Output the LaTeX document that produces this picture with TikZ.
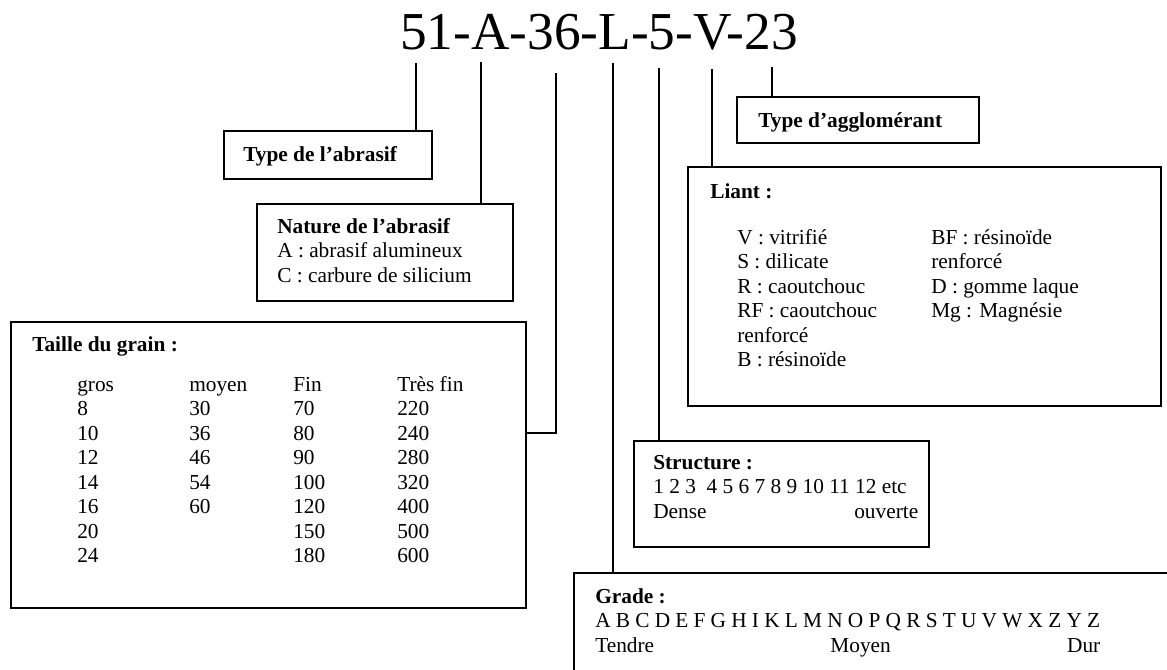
\documentclass[tikz,border=0pt]{standalone}
\usepackage{fontspec}
\setmainfont{Liberation Serif}
\usepackage{tikz}
\usetikzlibrary{positioning,calc}

\newcommand{\corps}{\fontsize{16}{18.4}\selectfont}

\begin{document}
\begin{tikzpicture}[x=0.75pt, y=-0.75pt,
    cadre/.style={draw, line width=1.4pt, anchor=north west, inner sep=0pt},
    trait/.style={line width=1.4pt},
    txt/.style={font=\corps, inner sep=0pt, anchor=base west},
    titre/.style={font=\fontsize{40}{46}\selectfont, inner sep=0pt, anchor=base}
]
\clip (0,0) rectangle (1167,669);

%% Designation
\node[titre] (code) at (599, 49) {51-A-36-L-5-V-23};
\coordinate (c51) at (416, 63);
\coordinate (cA)  at (481, 62);
\coordinate (c36) at (556, 73);
\coordinate (cL)  at (613, 63);
\coordinate (c5)  at (659, 68);
\coordinate (cV)  at (712, 69);
\coordinate (c23) at (772, 67);

%% Boxes
\node[cadre, minimum width=156pt, minimum height=36pt] (typeabr) at (223, 130) {};
\node[cadre, minimum width=192pt, minimum height=72.75pt] (nature) at (256, 203) {};
\node[cadre, minimum width=386.25pt, minimum height=214.5pt] (taille) at (10, 321) {};
\node[cadre, minimum width=181.5pt, minimum height=34.5pt] (typeagg) at (736, 96) {};
\node[cadre, minimum width=354.75pt, minimum height=179.25pt] (liant) at (687, 166) {};
\node[cadre, minimum width=221.25pt, minimum height=79.5pt] (structure) at (633, 440) {};
\node[cadre, minimum width=465pt, minimum height=112.5pt] (grade) at (573, 572) {};

%% Connectors
\draw[trait] (c51) -- (c51 |- typeabr.north);
\draw[trait] (cA) -- (cA |- nature.north);
\draw[trait] (c36) |- ([yshift=-84pt]taille.north east);
\draw[trait] (cL) -- (cL |- grade.north);
\draw[trait] (c5) -- (c5 |- structure.north);
\draw[trait] (cV) -- (cV |- liant.north);
\draw[trait] (c23) -- (c23 |- typeagg.north);

%% Type de l'abrasif
\node[txt] (t_typeabr) at (243, 161) {\textbf{Type de l’abrasif}};

%% Nature de l'abrasif
\node[txt] (t_nature) at (277, 233) {\begin{tabular}[t]{@{}l@{}}
  \textbf{Nature de l’abrasif}\\
  A : abrasif alumineux\\
  C : carbure de silicium
\end{tabular}};

%% Taille du grain
\node[txt] (t_taille) at (32, 351) {\textbf{Taille du grain :}};
\node[txt] (t_grains) at (77, 391) {\begin{tabular}[t]{@{}p{84pt}@{}p{78pt}@{}p{78pt}@{}l@{}}
  gros & moyen & Fin & Très fin\\
  8  & 30 & 70  & 220\\
  10 & 36 & 80  & 240\\
  12 & 46 & 90  & 280\\
  14 & 54 & 100 & 320\\
  16 & 60 & 120 & 400\\
  20 &    & 150 & 500\\
  24 &    & 180 & 600
\end{tabular}};

%% Type d'agglomerant
\node[txt] (t_typeagg) at (758, 127) {\textbf{Type d’agglomérant}};

%% Liant
\node[txt] (t_liant) at (710, 198) {\textbf{Liant :}};
\node[txt] (t_liant1) at (737, 244) {\begin{tabular}[t]{@{}l@{}}
  V : vitrifié\\
  S : dilicate\\
  R : caoutchouc\\
  RF : caoutchouc\\
  renforcé\\
  B : résinoïde
\end{tabular}};
\node[txt] (t_liant2) at (931, 244) {\begin{tabular}[t]{@{}l@{}}
  BF : résinoïde\\
  renforcé\\
  D : gomme laque\\
  Mg : Magnésie
\end{tabular}};

%% Structure
\node[txt] (t_structure) at (653, 469) {\begin{tabular}[t]{@{}p{198.75pt}@{}}
  \textbf{Structure :}\\
  1 2 3\ \ 4 5 6 7 8 9 10 11 12 etc\\
  Dense\hfill ouverte
\end{tabular}};

%% Grade
\node[txt] (t_grade) at (595, 603) {\begin{tabular}[t]{@{}p{378.75pt}@{}}
  \textbf{Grade :}\\
  A B C D E F G H I K L M N O P Q R S T U V W X Z Y Z\\
  Tendre\hfill Moyen\hfill Dur
\end{tabular}};

\end{tikzpicture}
\end{document}
